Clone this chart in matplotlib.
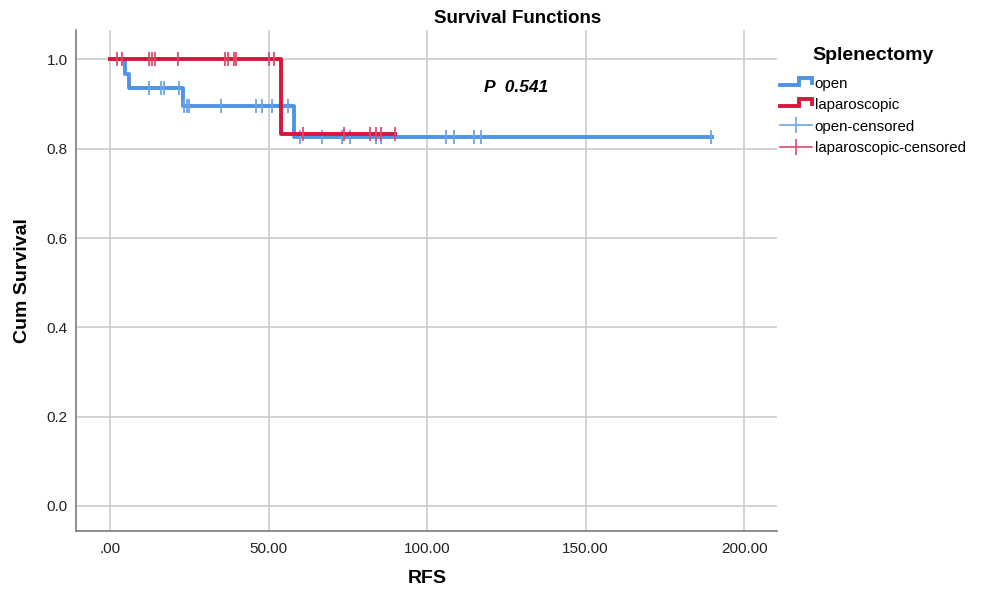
import numpy as np
import matplotlib
matplotlib.use("Agg")
import matplotlib.pyplot as plt
from matplotlib.legend_handler import HandlerBase
from matplotlib.lines import Line2D

plt.rcParams['font.family'] = ['Liberation Sans', 'DejaVu Sans']

# datos
open_event_t = [4.7, 6.1, 22.9, 58.0]
open_surv = [1.0, 0.967, 0.935, 0.895, 0.827]
open_end = 190.0
open_cens_t = [12.2, 16.1, 17.0, 21.9, 23.3, 24.2, 25.0, 35.0, 46.0, 48.0, 51.1,
               56.0, 60.0, 67.0, 73.2, 75.8, 83.8, 85.6, 105.9, 108.6, 114.8,
               116.9, 189.6]

lap_event_t = [53.9]
lap_surv = [1.0, 0.833]
lap_end = 90.0
lap_cens_t = [2.2, 3.8, 12.4, 13.2, 14.1, 21.3, 36.3, 37.1, 39.0, 39.8, 50.2,
              51.8, 61.0, 73.8, 82.0, 84.0, 85.5, 90.0]

x_ticks = [0, 50, 100, 150, 200]
x_labels = ['.00', '50.00', '100.00', '150.00', '200.00']
y_ticks = [0.0, 0.2, 0.4, 0.6, 0.8, 1.0]
y_labels = ['0.0', '0.2', '0.4', '0.6', '0.8', '1.0']

blue = '#4f93e3'
blue_c = '#6aa5ea'
red = '#d8163d'
red_c = '#e04a68'


def km_curve(ev, surv, end):
    t = [0.0] + list(ev) + [end]
    s = list(surv) + [surv[-1]]
    return t, s


def surv_at(ev, surv, times):
    idx = np.searchsorted(ev, times, side='right')
    return np.array(surv)[idx]


class StepHandler(HandlerBase):
    def __init__(self, color, lw):
        super().__init__()
        self.color = color
        self.lw = lw

    def create_artists(self, legend, orig_handle, xdescent, ydescent,
                       width, height, fontsize, trans):
        xs = [0, 0.6 * width, 0.6 * width, width, width]
        ys = [0.3 * height, 0.3 * height, 0.95 * height, 0.95 * height, 0.45 * height]
        ln = Line2D(xs, ys, color=self.color, lw=self.lw, transform=trans,
                    solid_joinstyle='miter')
        return [ln]


class CensHandler(HandlerBase):
    def __init__(self, color):
        super().__init__()
        self.color = color

    def create_artists(self, legend, orig_handle, xdescent, ydescent,
                       width, height, fontsize, trans):
        ln = Line2D([0, width], [0.5 * height, 0.5 * height], color=self.color,
                    lw=1.2, transform=trans)
        mk = Line2D([0.5 * width], [0.5 * height], marker='|', markersize=11,
                    markeredgewidth=1.2, color=self.color, transform=trans)
        return [ln, mk]


fig = plt.figure(figsize=(9.89, 5.9), dpi=100)
ax = fig.add_axes([0.077, 0.1, 0.709, 0.85])

t, s = km_curve(open_event_t, open_surv, open_end)
h_open, = ax.step(t, s, where='post', color=blue, lw=2.8, zorder=3)
ax.plot(open_cens_t, surv_at(open_event_t, open_surv, open_cens_t), ls='none',
        marker='|', markersize=10, markeredgewidth=1.3, color=blue_c, zorder=3)

t, s = km_curve(lap_event_t, lap_surv, lap_end)
h_lap, = ax.step(t, s, where='post', color=red, lw=2.8, zorder=4)
ax.plot(lap_cens_t, surv_at(lap_event_t, lap_surv, lap_cens_t), ls='none',
        marker='|', markersize=10, markeredgewidth=1.3, color=red_c, zorder=4)

ax.set_xlim(-10.7, 210.5)
ax.set_ylim(-0.056, 1.067)
ax.set_xticks(x_ticks)
ax.set_xticklabels(x_labels)
ax.set_yticks(y_ticks)
ax.set_yticklabels(y_labels)
ax.tick_params(axis='x', length=0, labelsize=11, colors='#222222', pad=8)
ax.tick_params(axis='y', length=0, labelsize=11, colors='#222222', pad=6)
ax.grid(True, color='#c8c8c8', lw=1.1)
ax.set_axisbelow(True)
for sp in ['top', 'right']:
    ax.spines[sp].set_visible(False)
for sp in ['left', 'bottom']:
    ax.spines[sp].set_color('#7a7a7a')
    ax.spines[sp].set_linewidth(1.2)

ax.set_xlabel('RFS', fontsize=14, fontweight='bold', va='center')
ax.xaxis.set_label_coords(0.5, -0.094)
ax.set_ylabel('Cum Survival', fontsize=14, fontweight='bold', va='center')
ax.yaxis.set_label_coords(-0.077, 0.5)
fig.text(0.523, 0.968, 'Survival Functions', ha='center', va='center',
         fontsize=13.5, fontweight='bold')
ax.text(118, 0.937, 'P  0.541', fontsize=12.5, fontweight='bold',
        style='italic', va='center')

dummy = [object(), object(), object(), object()]
leg = fig.legend(dummy, ['open', 'laparoscopic', 'open-censored', 'laparoscopic-censored'],
                 handler_map={dummy[0]: StepHandler(blue, 2.8),
                              dummy[1]: StepHandler(red, 2.8),
                              dummy[2]: CensHandler(blue_c),
                              dummy[3]: CensHandler(red_c)},
                 loc='upper left', bbox_to_anchor=(0.789, 0.92), frameon=False,
                 borderpad=0, borderaxespad=0,
                 title='Splenectomy', title_fontproperties={'weight': 'bold', 'size': 14},
                 fontsize=10.8, handlelength=2.1, handletextpad=0.2,
                 labelspacing=0.5)
leg._legend_box.sep = 9

fig.savefig('out.png', dpi=100)
